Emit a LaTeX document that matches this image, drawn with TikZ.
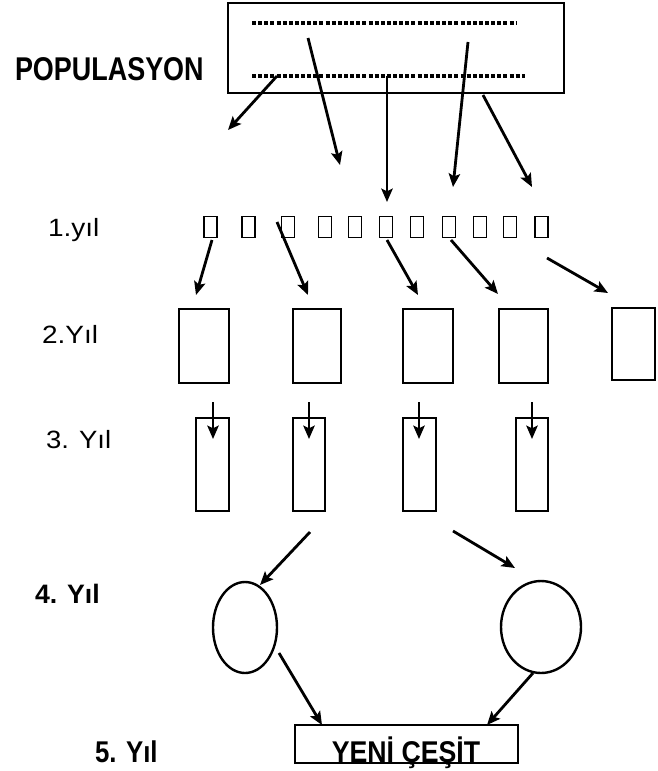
\documentclass[tikz,border=0pt]{standalone}
\usepackage{fontspec}
\setmainfont{Liberation Sans}
\usepackage{graphicx}
\usetikzlibrary{arrows.meta,shapes.geometric}
\newdimen\pxu \pxu=0.75pt
\begin{document}
\begin{tikzpicture}[x=0.75pt,y=-0.75pt,
  shp/.style={draw, line width=1.8pt, inner sep=0pt, outer sep=0pt},
  arr/.style={line width=2.1pt, -{Stealth[length=10pt,width=8.5pt,inset=2pt]}},
  lbl/.style={anchor=base west, inner sep=0pt, outer sep=0pt},
  dotline/.style={line width=3pt, dash pattern=on 3pt off 1.6pt}]
\useasboundingbox (0,0) rectangle (657,771);

% population box
\node[shp, minimum width=336\pxu, minimum height=90\pxu] (pop) at (396,48) {};
\coordinate (d1a) at (252,23); \coordinate (d1b) at (517,23);
\coordinate (d2a) at (252,76); \coordinate (d2b) at (525,76);
\draw[dotline] (d1a) -- (d1b);
\draw[dotline] (d2a) -- (d2b);
\node[lbl] (poplbl) at (15,80) {\fontsize{23.5}{26}\selectfont\bfseries\scalebox{0.86}[1.05]{POPULASYON}};

% arrows from population
\coordinate (p1s) at (277,76);  \coordinate (p1e) at (228,130);
\coordinate (p2s) at (308,38);  \coordinate (p2e) at (340,165);
\coordinate (p3s) at (387,76);  \coordinate (p3e) at (387,202);
\coordinate (p4s) at (468,42);  \coordinate (p4e) at (453,187);
\coordinate (p5s) at (483,95);  \coordinate (p5e) at (532,187);
\foreach \i in {1,...,5} {\draw[arr] (p\i s) -- (p\i e);}

% year 1 small squares
\foreach \x [count=\k] in {210.5,248.5,288,325,355,386,417,449,480,510,541.5}
  \node[draw, line width=1.4pt, inner sep=0pt, minimum width=13\pxu, minimum height=21\pxu] (s\k) at (\x,227) {};

% arrows year1 -> year2
\coordinate (a1s) at (212,240); \coordinate (a1e) at (196,295);
\coordinate (a2s) at (277,222); \coordinate (a2e) at (308,295);
\coordinate (a3s) at (387,240); \coordinate (a3e) at (418,295);
\coordinate (a4s) at (451,240); \coordinate (a4e) at (498,294);
\coordinate (a5s) at (547,258); \coordinate (a5e) at (608,293);
\foreach \i in {1,...,5} {\draw[arr] (a\i s) -- (a\i e);}

% year 2 boxes
\node[shp, minimum width=50\pxu, minimum height=74\pxu] (b1) at (204,346) {};
\node[shp, minimum width=48\pxu, minimum height=74\pxu] (b2) at (317,346) {};
\node[shp, minimum width=50\pxu, minimum height=74\pxu] (b3) at (428,346) {};
\node[shp, minimum width=49\pxu, minimum height=74\pxu] (b4) at (523.5,346) {};
\node[shp, minimum width=43\pxu, minimum height=72\pxu] (b5) at (633.5,344) {};

% year 3 boxes
\node[shp, minimum width=33\pxu, minimum height=93\pxu] (c1) at (212.5,464.5) {};
\node[shp, minimum width=32\pxu, minimum height=93\pxu] (c2) at (309,464.5) {};
\node[shp, minimum width=33\pxu, minimum height=93\pxu] (c3) at (419.5,464.5) {};
\node[shp, minimum width=32\pxu, minimum height=93\pxu] (c4) at (532,464.5) {};
\foreach \x [count=\k] in {213,309,419,532} {
  \coordinate (v\k s) at (\x,402); \coordinate (v\k e) at (\x,439);
  \draw[arr, line width=1.8pt] (v\k s) -- (v\k e);
}

% year 4 ellipses
\node[shp, ellipse, minimum width=64\pxu, minimum height=91\pxu] (e1) at (245,627.5) {};
\node[shp, ellipse, minimum width=80\pxu, minimum height=92\pxu] (e2) at (541,627) {};
\coordinate (q1s) at (310,532); \coordinate (q1e) at (260,585);
\coordinate (q2s) at (453,531); \coordinate (q2e) at (515,568);
\coordinate (q3s) at (279,653); \coordinate (q3e) at (322,725);
\coordinate (q4s) at (533,673); \coordinate (q4e) at (487,725);
\foreach \i in {1,...,4} {\draw[arr] (q\i s) -- (q\i e);}

% new variety box
\node[shp, minimum width=223\pxu, minimum height=38\pxu] (yeni) at (406.5,744) {};
\node[anchor=base, inner sep=0pt] (yenitxt) at (406,762) {\fontsize{22.5}{24}\selectfont\bfseries\scalebox{0.89}[1]{YENİ ÇEŞİT}};

% year labels
\node[lbl] (y1) at (48,236) {\fontsize{18.75}{20}\selectfont\scalebox{1.12}[1]{1.yıl}};
\node[lbl] (y2) at (42,343) {\fontsize{18.75}{20}\selectfont\scalebox{1.12}[1]{2.Yıl}};
\node[lbl] (y3) at (46,448) {\fontsize{18.75}{20}\selectfont\scalebox{1.1}[1]{3. Yıl}};
\node[lbl] (y4) at (35,603) {\fontsize{20}{22}\selectfont\bfseries\scalebox{1.0}[1]{4. Yıl}};
\node[lbl] (y5) at (95,762) {\fontsize{22.5}{24}\selectfont\bfseries\scalebox{0.86}[1]{5. Yıl}};
\end{tikzpicture}
\end{document}
